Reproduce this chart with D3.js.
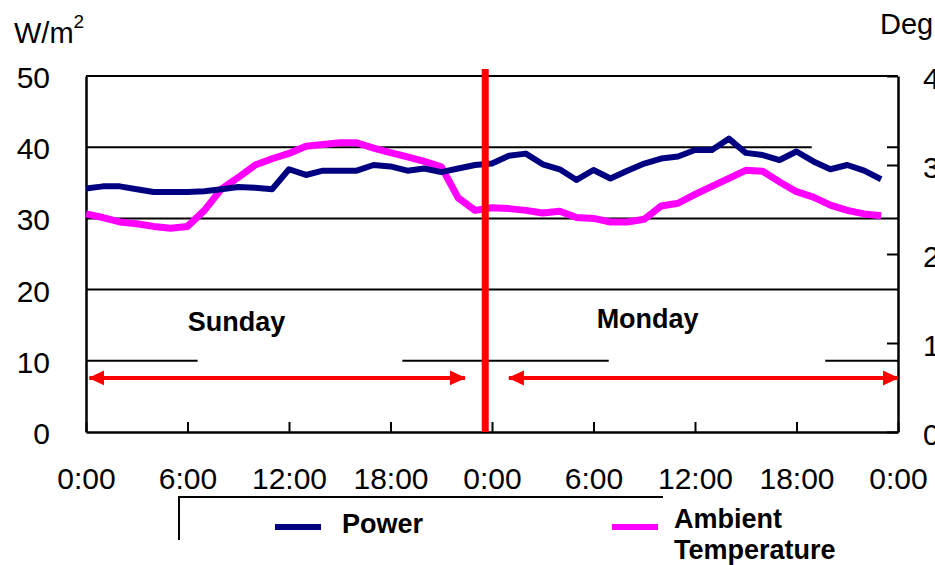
<!DOCTYPE html>
<html>
<head>
<meta charset="utf-8">
<script src="https://cdn.jsdelivr.net/npm/d3@7"></script>
<style>
  body { margin: 0; background: #fff; }
  text { font-family: "Liberation Sans", Arial, sans-serif; fill: #000; }
</style>
</head>
<body>
<div id="chart"></div>
<script>
// hourly readings over two days (hour 0 = Sunday 0:00)
var hours = d3.range(0, 48);
var power = [34.2, 34.5, 34.5, 34.1, 33.7, 33.7, 33.7, 33.8, 34.1, 34.4, 34.3, 34.1,
             36.9, 36.1, 36.7, 36.7, 36.7, 37.5, 37.3, 36.7, 37.0, 36.5, 37.0, 37.5,
             37.7, 38.8, 39.1, 37.6, 36.9, 35.4, 36.8, 35.6, 36.7, 37.7, 38.4, 38.7,
             39.6, 39.6, 41.2, 39.2, 38.9, 38.2, 39.4, 38.0, 36.9, 37.5, 36.7, 35.5];
var temperature = [24.5, 24.1, 23.6, 23.4, 23.1, 22.9, 23.1, 24.9, 27.3, 28.6, 30.0, 30.7,
                   31.3, 32.1, 32.3, 32.5, 32.5, 31.9, 31.4, 30.9, 30.4, 29.8, 26.3, 24.9,
                   25.2, 25.1, 24.9, 24.6, 24.8, 24.1, 24.0, 23.6, 23.6, 23.9, 25.4, 25.7,
                   26.7, 27.6, 28.5, 29.4, 29.3, 28.1, 27.0, 26.4, 25.5, 24.9, 24.5, 24.3];

var xTicks = [0, 6, 12, 18, 24, 30, 36, 42, 48];
var xTickLabels = ["0:00", "6:00", "12:00", "18:00", "0:00", "6:00", "12:00", "18:00", "0:00"];
var powerTicks = [0, 10, 20, 30, 40, 50];
var tempTicks = [0, 10, 20, 30, 40];
var gridValues = [10, 20, 30, 40, 50];

var days = [
  {name: "Sunday", from: 0.2, to: 22.4, label: 8.9},
  {name: "Monday", from: 25.0, to: 48, label: 33.2}
];
var midnight = 23.6;   // the red divider

var width = 935, height = 565;
var x = d3.scaleLinear().domain([0, 48]).range([86, 898]);
var yP = d3.scaleLinear().domain([0, 50]).range([432, 76]);
var yT = d3.scaleLinear().domain([0, 40]).range([432, 76]);

var svg = d3.select('#chart').append('svg')
  .attr('width', width)
  .attr('height', height);

var defs = svg.append('defs');
['start', 'end'].forEach(function(k) {
  defs.append('marker')
    .attr('id', 'arrow-' + k)
    .attr('markerUnits', 'userSpaceOnUse')
    .attr('markerWidth', 16).attr('markerHeight', 16)
    .attr('viewBox', '0 -8 16 16')
    .attr('refX', 15).attr('refY', 0)
    .attr('orient', k == 'start' ? 'auto-start-reverse' : 'auto')
    .append('path')
      .attr('d', 'M0,-7.5L16,0L0,7.5Z')
      .attr('fill', '#ff0000');
});

// gridlines
svg.append('g')
  .selectAll('line')
  .data(gridValues)
  .enter().append('line')
    .attr('x1', x(0)).attr('x2', x(48))
    .attr('y1', d => yP(d)).attr('y2', d => yP(d))
    .attr('stroke', '#000')
    .attr('stroke-width', 2);

// white label boxes sitting over the grid (as in the original sheet)
svg.append('g')
  .selectAll('rect')
  .data([[6.6, 18.7, 16.5, 9], [30.9, 43.7, 16.5, 9]])
  .enter().append('rect')
    .attr('x', d => x(d[0])).attr('width', d => x(d[1]) - x(d[0]))
    .attr('y', d => yP(d[2])).attr('height', d => yP(d[3]) - yP(d[2]))
    .attr('fill', '#fff');
svg.append('rect')
  .attr('x', x(42.9)).attr('width', x(47.35) - x(42.9))
  .attr('y', yP(41.3)).attr('height', yP(38.7) - yP(41.3))
  .attr('fill', '#fff');

// axes
var xAxis = d3.axisBottom(x)
  .tickValues(xTicks)
  .tickFormat((d, i) => xTickLabels[i])
  .tickSizeInner(-10).tickSizeOuter(0).tickPadding(36);
var gx = svg.append('g').attr('transform', 'translate(0,' + yP(0) + ')').call(xAxis);

var gl = svg.append('g').attr('transform', 'translate(' + x(0) + ',0)')
  .call(d3.axisLeft(yP).tickValues(powerTicks).tickSize(0).tickPadding(36));

var gr = svg.append('g').attr('transform', 'translate(' + x(48) + ',0)')
  .call(d3.axisRight(yT).tickValues(tempTicks).tickFormat(d3.format('d'))
    .tickSizeInner(-11).tickSizeOuter(0).tickPadding(25));

[gx, gl, gr].forEach(function(g) {
  g.select('.domain').attr('stroke', '#000').attr('stroke-width', 2.5);
  g.selectAll('.tick line').attr('stroke', '#000').attr('stroke-width', 2);
  g.selectAll('.tick text')
    .style('font-family', '"Liberation Sans", Arial, sans-serif')
    .style('font-size', '30px')
    .attr('fill', '#000');
});
gl.selectAll('.tick text').attr('dy', '0.38em');
gr.selectAll('.tick text').attr('dy', '0.42em');
gx.selectAll('.tick text').attr('dy', '0.71em');

// axis titles
var wm = svg.append('text').attr('x', 14).attr('y', 43).style('font-size', '29px').text('W/m');
wm.append('tspan').attr('dy', -15).style('font-size', '19px').text('2');
svg.append('text').attr('x', 880).attr('y', 34).style('font-size', '29px').text('Deg C');

// data lines
var line = d3.line().x((d, i) => x(hours[i]));
svg.append('path')
  .attr('d', line.y(d => yT(d))(temperature))
  .attr('fill', 'none')
  .attr('stroke', '#ff00ff')
  .attr('stroke-width', 7)
  .attr('stroke-linejoin', 'round');
svg.append('path')
  .attr('d', line.y(d => yP(d))(power))
  .attr('fill', 'none')
  .attr('stroke', '#000080')
  .attr('stroke-width', 6)
  .attr('stroke-linejoin', 'round');

// day annotations
svg.append('g')
  .selectAll('text')
  .data(days)
  .enter().append('text')
    .attr('x', d => x(d.label))
    .attr('y', (d, i) => yP(i == 0 ? 14.2 : 14.6))
    .attr('text-anchor', 'middle')
    .style('font-size', '27px')
    .style('font-weight', 'bold')
    .text(d => d.name);

svg.append('g')
  .selectAll('line')
  .data(days)
  .enter().append('line')
    .attr('x1', d => x(d.from)).attr('x2', d => x(d.to))
    .attr('y1', yP(7.6)).attr('y2', yP(7.6))
    .attr('stroke', '#ff0000')
    .attr('stroke-width', 4)
    .attr('marker-start', 'url(#arrow-start)')
    .attr('marker-end', 'url(#arrow-end)');

svg.append('line')
  .attr('x1', x(midnight)).attr('x2', x(midnight))
  .attr('y1', yP(51)).attr('y2', yP(0))
  .attr('stroke', '#ff0000')
  .attr('stroke-width', 7);

// legend
var legend = svg.append('g');
legend.append('path')
  .attr('d', 'M179,540V497H663')
  .attr('fill', 'none')
  .attr('stroke', '#000')
  .attr('stroke-width', 2);
var legendItems = [
  {name: ['Power'], color: '#000080', x: 275, tx: 342, ty: 533},
  {name: ['Ambient', 'Temperature'], color: '#ff00ff', x: 612, tx: 674, ty: 528}
];
legendItems.forEach(function(d) {
  legend.append('line')
    .attr('x1', d.x).attr('x2', d.x + 46)
    .attr('y1', 527).attr('y2', 527)
    .attr('stroke', d.color)
    .attr('stroke-width', 6);
  var t = legend.append('text')
    .attr('x', d.tx).attr('y', d.ty)
    .style('font-size', '27px')
    .style('font-weight', 'bold');
  d.name.forEach(function(s, i) {
    t.append('tspan').attr('x', d.tx).attr('dy', i ? 31 : 0).text(s);
  });
});
</script>
</body>
</html>
